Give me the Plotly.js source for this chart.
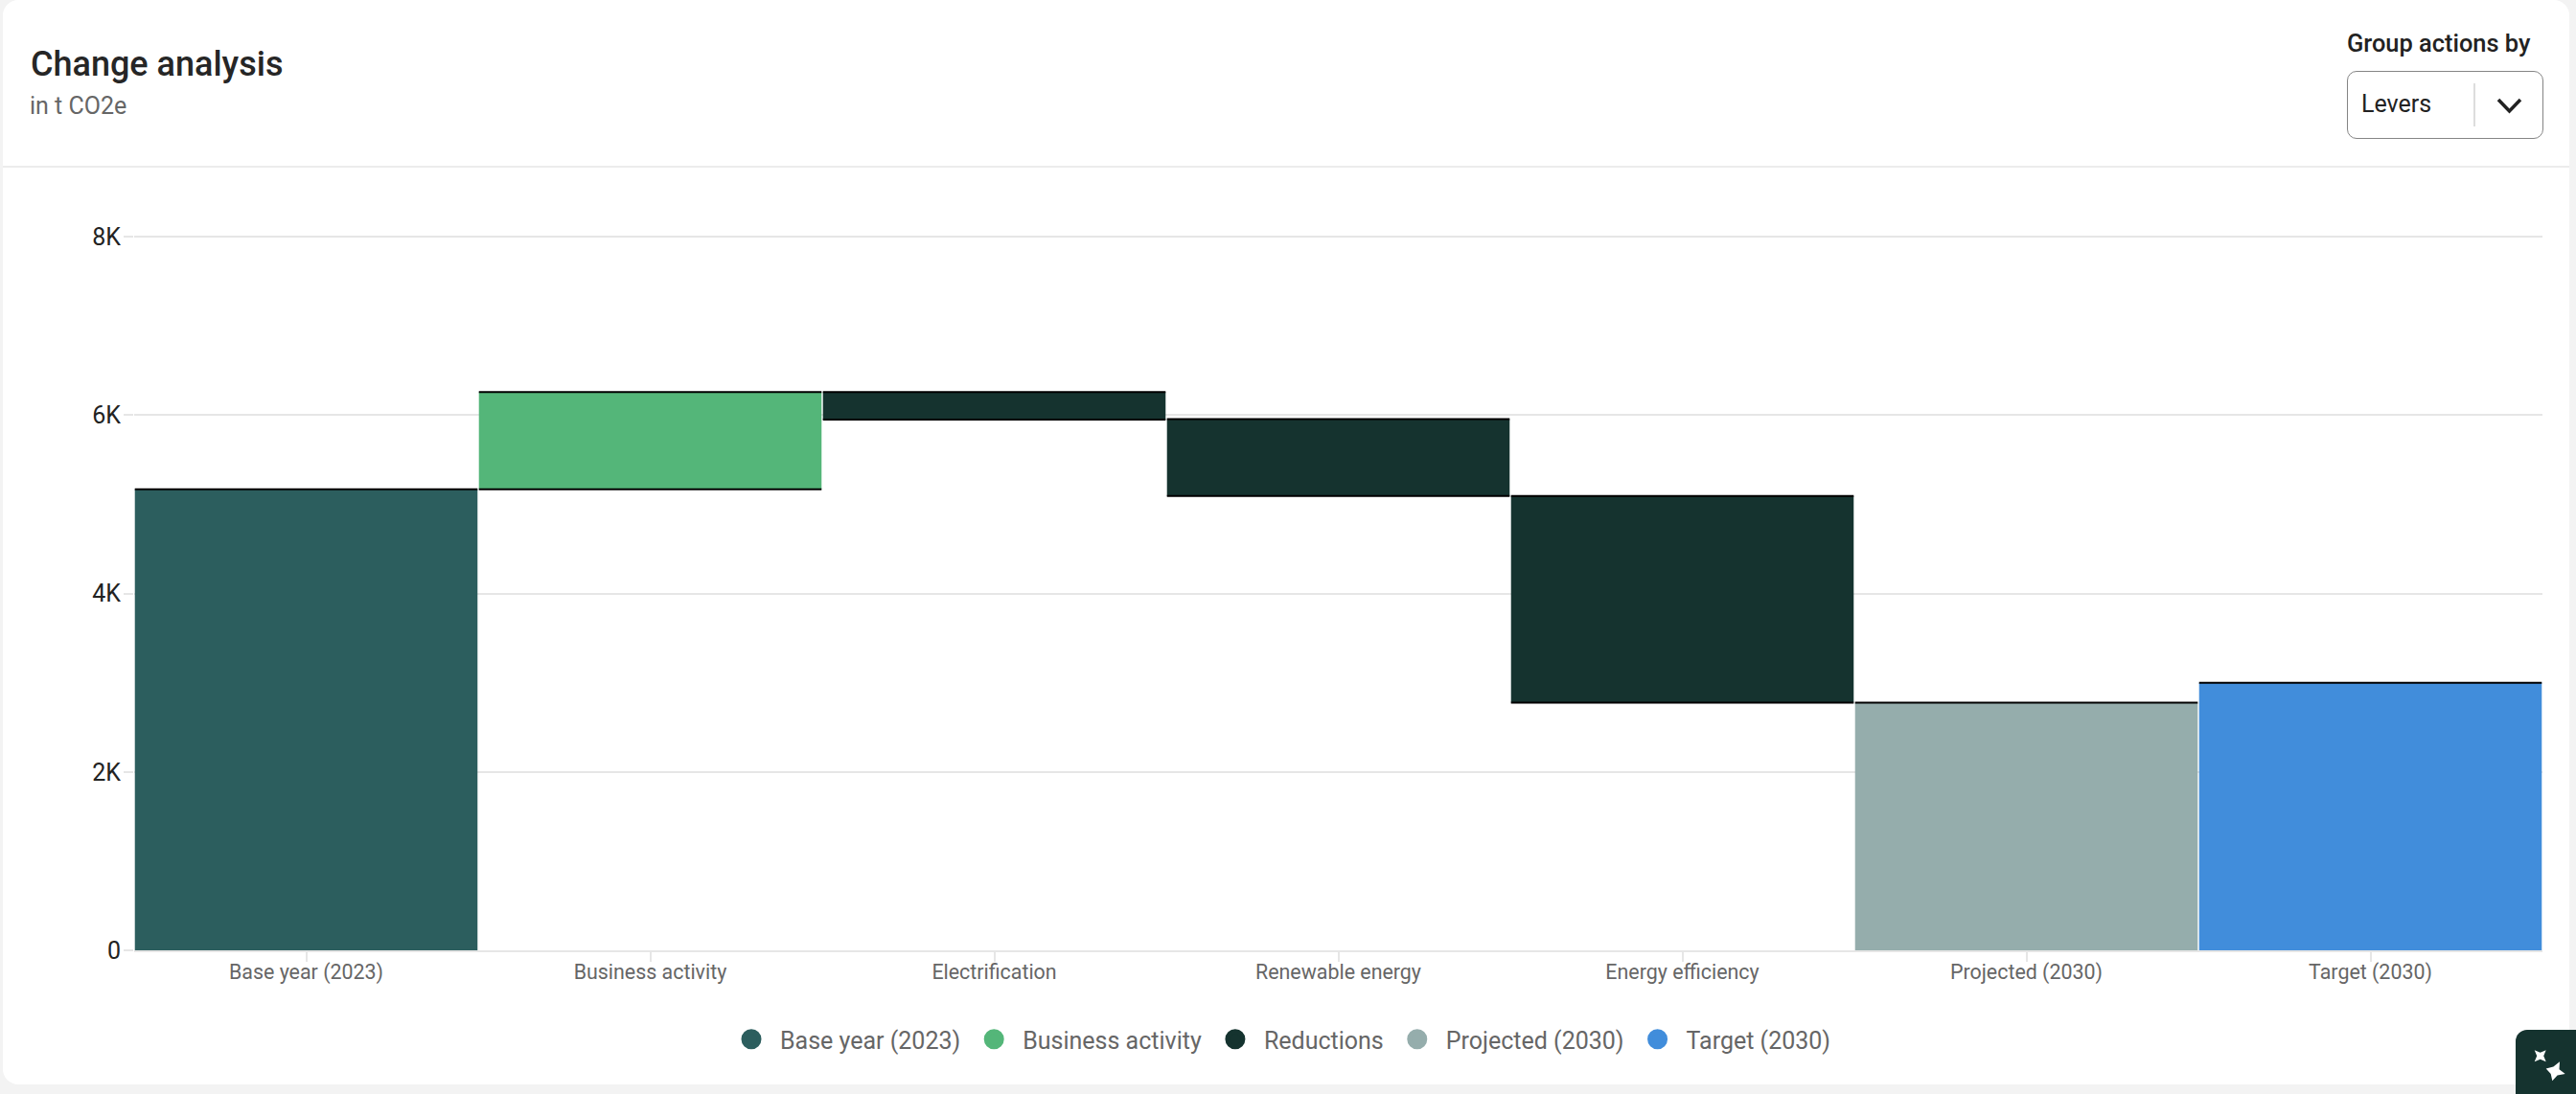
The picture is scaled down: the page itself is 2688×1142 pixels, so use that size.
<!DOCTYPE html>
<html>
<head>
<meta charset="utf-8">
<script src="https://cdn.plot.ly/plotly-3.0.1.min.js"></script>
<style>
html,body{margin:0;padding:0;width:2688px;height:1142px;overflow:hidden;background:#f3f3f3;font-family:Roboto,sans-serif}
#card{position:absolute;left:3px;top:0;width:2678px;height:1132px;background:#fff;border-radius:16px}
#rule{position:absolute;left:3px;top:173px;width:2678px;height:2px;background:#ececec}
#chart{position:absolute;left:0;top:0;width:2688px;height:1142px}
#groupLabel{position:absolute;left:2449px;top:30px;font-size:25.4px;font-weight:500;color:#222;line-height:30px;white-space:nowrap}
#select{position:absolute;left:2449px;top:74px;width:203px;height:69px;border:1.5px solid #858585;border-radius:10px;background:#fff}
#selectText{position:absolute;left:14px;top:19px;font-size:25px;line-height:30px;color:#222}
#selectDiv{position:absolute;left:131px;top:12px;width:1.5px;height:45px;background:#ddd}
#fab{position:absolute;left:2625px;top:1075px;width:63px;height:67px;background:#15332f;border-top-left-radius:12px}
svg.ic{position:absolute;left:0;top:0}
</style>
</head>
<body>
<div id="card"></div>
<div id="rule"></div>
<div id="chart"></div>
<div id="groupLabel">Group actions by</div>
<div id="select">
  <div id="selectText">Levers</div>
  <div id="selectDiv"></div>
  <svg class="ic" width="203" height="69"><polyline points="157,29 168.500,41 180,29" fill="none" stroke="#222" stroke-width="3.5"/></svg>
</div>
<div id="fab">
  <svg class="ic" width="63" height="67">
    <path d="M19.700 21.300 L25.700 23.800 L31.700 21.300 L29.200 27.300 L31.700 33.300 L25.700 30.800 L19.700 33.300 L22.200 27.300 Z" fill="#fff"/>
    <path d="M46 33.300 L45.500 41.200 L51.700 46 L43.600 47.500 L38.300 53.300 L36.700 45.900 L31.700 40.600 L39.400 38.600 Z" fill="#fff"/>
  </svg>
</div>
<script>
var categories = ["Base year (2023)","Business activity","Electrification","Renewable energy","Energy efficiency","Projected (2030)","Target (2030)"];
var barBottoms = [0,5170,5950,5095,2778,0,0];
var barTops = [5170,6260,6260,5955,5095,2778,3000];
var barGroups = ["Base year (2023)","Business activity","Reductions","Reductions","Reductions","Projected (2030)","Target (2030)"];
var legendNames = ["Base year (2023)","Business activity","Reductions","Projected (2030)","Target (2030)"];
var legendColors = ["#2c5e5e","#54b679","#15332f","#95adac","#418ddb"];
var yTickValues = [0,2000,4000,6000,8000];
var yTickLabels = ["0","2K","4K","6K","8K"];

var traces = [];
legendNames.forEach(function(name,g){
  var xs=[],hs=[],bs=[];
  categories.forEach(function(c,i){
    if(barGroups[i]===name){xs.push(c);hs.push(barTops[i]-barBottoms[i]);bs.push(barBottoms[i]);}
  });
  traces.push({type:'bar',x:xs,y:hs,base:bs,width:0.996,name:name,showlegend:false,legendgroup:name,
    marker:{color:legendColors[g],line:{width:0}},hoverinfo:'x+y'});
});
var edgeX=[],edgeY=[];
categories.forEach(function(c,i){
  edgeX.push(i-0.498,i+0.498,null);edgeY.push(barTops[i],barTops[i],null);
  if(barBottoms[i]>0){edgeX.push(i-0.498,i+0.498,null);edgeY.push(barBottoms[i],barBottoms[i],null);}
});
traces.push({type:'scatter',mode:'lines',x:edgeX,y:edgeY,xaxis:'x2',showlegend:false,hoverinfo:'skip',
  connectgaps:false,line:{color:'#000',width:2}});
legendNames.forEach(function(name,g){
  traces.push({type:'scatter',mode:'markers',x:[categories[0]],y:[null],name:name,legendgroup:name,
    marker:{symbol:'circle',size:16,color:legendColors[g],line:{width:5,color:legendColors[g]}}});
});

var layout = {
  width:2688,height:1142,
  paper_bgcolor:'rgba(0,0,0,0)',plot_bgcolor:'rgba(0,0,0,0)',
  font:{family:'Roboto, sans-serif'},
  margin:{l:140,r:35,t:245,b:150,pad:0},
  barmode:'overlay',
  title:{text:'Change analysis',xref:'container',yref:'container',x:32/2688,xanchor:'left',y:1-66/1142,yanchor:'middle',
    font:{family:'Roboto, sans-serif',size:36,weight:500,color:'#262626'}},
  annotations:[{text:'in t CO2e',xref:'paper',yref:'paper',x:(29-140)/2513,xanchor:'left',y:1+(245-110.5)/747,yanchor:'middle',
    showarrow:false,align:'left',font:{family:'Roboto, sans-serif',size:25,color:'#666'}}],
  xaxis:{type:'category',categoryorder:'array',categoryarray:categories,range:[-0.5,6.5],fixedrange:true,
    showgrid:false,zeroline:false,showline:true,linecolor:'#e6e6e6',linewidth:2,
    ticks:'outside',ticklen:10,tickwidth:1.5,tickcolor:'#e6e6e6',ticklabelstandoff:-8,
    tickfont:{family:'Roboto, sans-serif',size:21.4,color:'#666'}},
  xaxis2:{overlaying:'x',range:[-0.5,6.5],visible:false,fixedrange:true},
  yaxis:{range:[0,8024],fixedrange:true,tickmode:'array',tickvals:yTickValues,ticktext:yTickLabels,
    showgrid:true,gridcolor:'#e6e6e6',gridwidth:2,zeroline:false,showline:false,
    ticks:'outside',ticklen:10,tickwidth:2,tickcolor:'#e6e6e6',ticklabelstandoff:-2,
    tickfont:{family:'Roboto, sans-serif',size:25,color:'#222'}},
  showlegend:true,
  legend:{orientation:'h',xref:'container',yref:'container',x:0.5-9/2688,xanchor:'center',y:1-1085/1142,yanchor:'middle',itemwidth:50,
    font:{family:'Roboto, sans-serif',size:25,color:'#666'},bgcolor:'rgba(0,0,0,0)',itemclick:false,itemdoubleclick:false}
};
Plotly.newPlot('chart',traces,layout,{displayModeBar:false,responsive:false});
</script>
</body>
</html>
